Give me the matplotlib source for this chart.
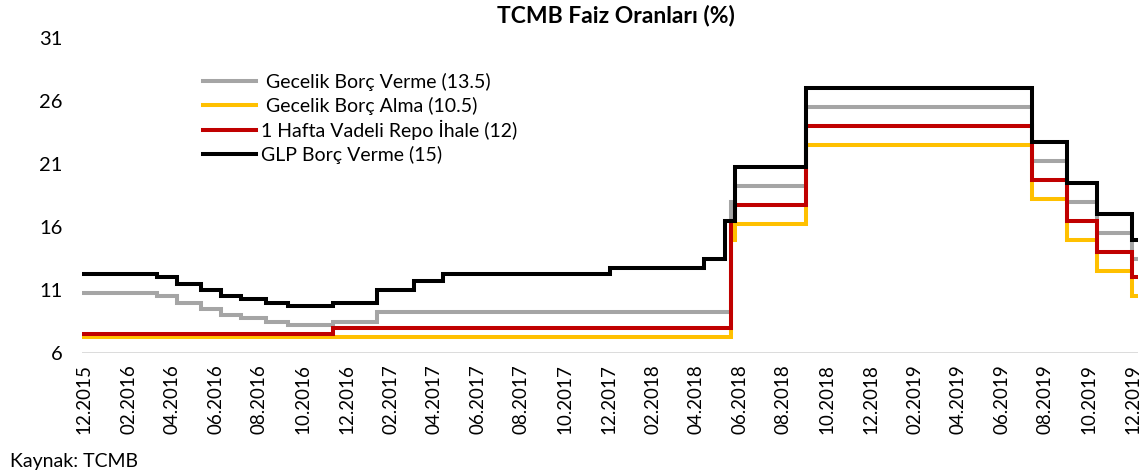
import datetime as dt
import matplotlib.pyplot as plt
import matplotlib.dates as mdates

plt.rcParams['font.family'] = ['Lato', 'DejaVu Sans']

# --- data: policy rate changes (date, new level) ---
start = dt.date(2015, 12, 10)
end = dt.date(2019, 12, 20)

on_lend_dates = [start, dt.date(2016, 3, 24), dt.date(2016, 4, 21), dt.date(2016, 5, 24),
                 dt.date(2016, 6, 21), dt.date(2016, 7, 19), dt.date(2016, 8, 23),
                 dt.date(2016, 9, 22), dt.date(2016, 11, 24), dt.date(2017, 1, 24),
                 dt.date(2018, 6, 1), dt.date(2018, 6, 7), dt.date(2018, 9, 13),
                 dt.date(2019, 7, 25), dt.date(2019, 9, 12), dt.date(2019, 10, 24),
                 dt.date(2019, 12, 12)]
on_lend = [10.75, 10.5, 10.0, 9.5, 9.0, 8.75, 8.5, 8.25, 8.5, 9.25,
           18.0, 19.25, 25.5, 21.25, 18.0, 15.5, 13.5]

on_borr_dates = [start, dt.date(2018, 6, 1), dt.date(2018, 6, 7), dt.date(2018, 9, 13),
                 dt.date(2019, 7, 25), dt.date(2019, 9, 12), dt.date(2019, 10, 24),
                 dt.date(2019, 12, 12)]
on_borr = [7.25, 15.0, 16.25, 22.5, 18.25, 15.0, 12.5, 10.5]

repo_dates = [start, dt.date(2016, 11, 24), dt.date(2018, 6, 1), dt.date(2018, 6, 7),
              dt.date(2018, 9, 13), dt.date(2019, 7, 25), dt.date(2019, 9, 12),
              dt.date(2019, 10, 24), dt.date(2019, 12, 12)]
repo = [7.5, 8.0, 16.5, 17.75, 24.0, 19.75, 16.5, 14.0, 12.0]

llw_dates = [start, dt.date(2016, 3, 24), dt.date(2016, 4, 21), dt.date(2016, 5, 24),
             dt.date(2016, 6, 21), dt.date(2016, 7, 19), dt.date(2016, 8, 23),
             dt.date(2016, 9, 22), dt.date(2016, 11, 24), dt.date(2017, 1, 24),
             dt.date(2017, 3, 16), dt.date(2017, 4, 26), dt.date(2017, 12, 14),
             dt.date(2018, 4, 25), dt.date(2018, 5, 23), dt.date(2018, 6, 7),
             dt.date(2018, 9, 13), dt.date(2019, 7, 25), dt.date(2019, 9, 12),
             dt.date(2019, 10, 24), dt.date(2019, 12, 12)]
llw = [12.25, 12.0, 11.5, 11.0, 10.5, 10.25, 10.0, 9.75, 10.0, 11.0,
       11.75, 12.25, 12.75, 13.5, 16.5, 20.75, 27.0, 22.75, 19.5, 17.0, 15.0]

labels = [' Gecelik Borç Verme (13.5)', ' Gecelik Borç Alma (10.5)',
          '1 Hafta Vadeli Repo İhale (12)', 'GLP Borç Verme (15)']
colors = ['#A5A5A5', '#FFC000', '#C00000', '#000000']

fig = plt.figure(figsize=(11.42, 4.75), dpi=100)
ax = fig.add_axes([82 / 1142, 1 - 353 / 475, (1138 - 82) / 1142, (353 - 38) / 475])

series = [(on_lend_dates, on_lend), (on_borr_dates, on_borr),
          (repo_dates, repo), (llw_dates, llw)]
for (d, v), lab, c in zip(series, labels, colors):
    ax.step(d + [end], v + [v[-1]], where='post', color=c, lw=2.9,
            label=lab, solid_joinstyle='miter')

ax.set_ylim(6, 31)
ax.set_yticks(range(6, 32, 5))
ax.set_xlim(start, end)
ticks = [dt.date(2015 + (11 + 2 * k) // 12, (11 + 2 * k) % 12 + 1, 13) for k in range(25)]
ax.set_xticks(ticks)
ax.xaxis.set_major_formatter(mdates.DateFormatter('%m.%Y'))
ax.tick_params(axis='x', rotation=90, length=0, pad=8, labelsize=13.5)
ax.tick_params(axis='y', length=0, pad=14, labelsize=14.5)
for s in ax.spines.values():
    s.set_visible(False)
ax.axhline(6, color='#D9D9D9', lw=1.3, zorder=0)

ax.legend(loc='upper left', bbox_to_anchor=((203 - 82) / 1056, 1 - (73 - 38) / 315),
          frameon=False, fontsize=14, handlelength=2.75, handletextpad=0.25,
          labelspacing=0.28, borderpad=0, borderaxespad=0)

fig.text(616 / 1142, 1 - 15 / 475, 'TCMB Faiz Oranları (%)', ha='center', va='center',
         fontsize=16.5, fontweight='bold')
fig.text(10 / 1142, 1 - 462 / 475, 'Kaynak: TCMB', ha='left', va='center', fontsize=14)

fig.savefig('out.png', dpi=100)
